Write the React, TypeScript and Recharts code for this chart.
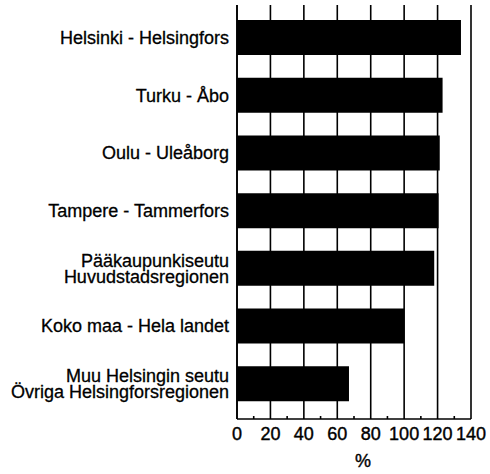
import React from 'react';
import { BarChart, Bar, XAxis, YAxis, CartesianGrid, Label } from 'recharts';

const categories = [
  'Helsinki - Helsingfors',
  'Turku - Åbo',
  'Oulu - Uleåborg',
  'Tampere - Tammerfors',
  'Pääkaupunkiseutu\nHuvudstadsregionen',
  'Koko maa - Hela landet',
  'Muu Helsingin seutu\nÖvriga Helsingforsregionen',
];
const values = [134, 123, 121.3, 120.6, 118, 100, 67];
const xTicks = [0, 10, 20, 30, 40, 50, 60, 70, 80, 90, 100, 110, 120, 130, 140];
const gridValues = [0, 20, 40, 60, 80, 100, 120, 140];

const data = categories.map((name, i) => ({ name, value: values[i] }));

const FONT = '"Liberation Sans", Arial, sans-serif';

const YTick = (props: any) => {
  const { x, y, payload } = props;
  const lines = String(payload.value).split('\n');
  const lh = 16;
  const startY = y - ((lines.length - 1) * lh) / 2;
  return (
    <text x={x} y={startY} textAnchor="end" dominantBaseline="central" fontSize={18} fontFamily={FONT} fill="#000" stroke="#000" strokeWidth={0.3}>
      {lines.map((l, i) => (
        <tspan key={i} x={x} y={startY + i * lh} dominantBaseline="central">
          {l}
        </tspan>
      ))}
    </text>
  );
};

const XTick = (props: any) => {
  const { x, y, payload } = props;
  const v = payload.value;
  if (v % 20 !== 0) {
    return <line x1={x} x2={x} y1={y} y2={y - 3} stroke="#000" strokeWidth={1.6} />;
  }
  return (
    <text x={x} y={y + 21} textAnchor="middle" fontSize={18} fontFamily={FONT} fill="#000" stroke="#000" strokeWidth={0.4}>
      {v}
    </text>
  );
};

export default function App() {
  return (
    <div style={{ position: 'absolute', left: 0, top: 0, background: '#fff' }}>
      <BarChart
        width={490}
        height={474}
        data={data}
        layout="vertical"
        margin={{ top: 5, right: 19, bottom: 0, left: 0 }}
      >
        <CartesianGrid horizontal={false} verticalValues={gridValues} stroke="#000" strokeWidth={1.6} />
        <XAxis
          type="number"
          domain={[0, 140]}
          ticks={xTicks}
          interval={0}
          tickLine={false}
          tickSize={0}
          tickMargin={0}
          tick={<XTick />}
          axisLine={{ stroke: '#000', strokeWidth: 1.6 }}
          height={55}
        >
          <Label value="%" position="insideBottom" offset={7} dx={9} fontSize={18} fontFamily={FONT} fill="#000" stroke="#000" strokeWidth={0.4} />
        </XAxis>
        <YAxis
          type="category"
          dataKey="name"
          width={237}
          interval={0}
          tickLine={false}
          tickSize={0}
          tickMargin={8}
          tick={<YTick />}
          axisLine={{ stroke: '#000', strokeWidth: 1.6 }}
          padding={{ top: 4, bottom: 6 }}
        />
        <Bar dataKey="value" fill="#000" barSize={35} isAnimationActive={false} />
      </BarChart>
    </div>
  );
}
